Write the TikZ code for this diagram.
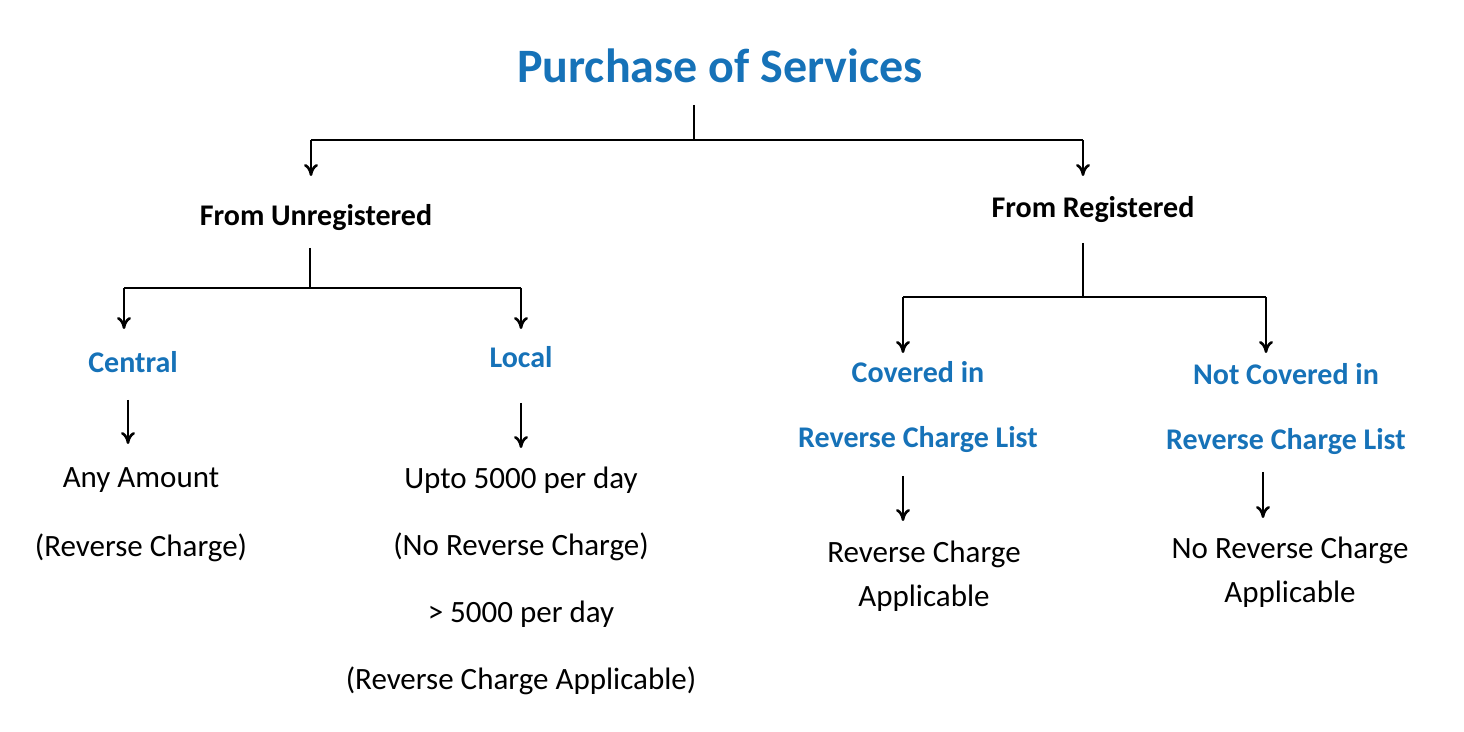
\documentclass[tikz,border=0pt]{standalone}
\usepackage{fontspec}
\setmainfont{Carlito}
\usetikzlibrary{arrows.meta}
\definecolor{tblue}{HTML}{1672B8}
\begin{document}
\begin{tikzpicture}[x=0.5pt,y=-0.5pt,
  ln/.style={line width=1.3pt,black},
  ar/.style={ln,-{To[length=6pt,width=7pt]}},
  hd/.style={font=\bfseries\fontsize{15}{18}\selectfont,text=tblue,inner sep=0},
  bk/.style={font=\bfseries\fontsize{15}{18}\selectfont,inner sep=0},
  tx/.style={font=\fontsize{15.5}{18}\selectfont,inner sep=0}]
\useasboundingbox (0,0) rectangle (1464,732);
\node[font=\bfseries\fontsize{24}{28}\selectfont,text=tblue,inner sep=0] (title) at (720,66) {Purchase of Services};
\coordinate (t0) at (694,105);
\coordinate (t1) at (694,140);
\coordinate (tl) at (311,140);
\coordinate (tr) at (1083,140);
\node[bk] (unreg) at (316,218) {From Unregistered};
\node[bk] (reg) at (1093,210) {From Registered};
\coordinate (tla) at (311,176);
\coordinate (tra) at (1083,176);
\draw[ln] (t0) -- (t1);
\draw[ln] (tl) -- (tr);
\draw[ar] (tl) -- (tla);
\draw[ar] (tr) -- (tra);
% left
\coordinate (u0) at (310,248);
\coordinate (u1) at (310,288);
\coordinate (ul) at (124,288);
\coordinate (ur) at (521,288);
\coordinate (ula) at (124,329);
\coordinate (ura) at (521,329);
\draw[ln] (u0) -- (u1);
\draw[ln] (ul) -- (ur);
\draw[ar] (ul) -- (ula);
\draw[ar] (ur) -- (ura);
\node[hd] (central) at (133,362) {Central};
\node[hd] (local) at (521,357) {Local};
\coordinate (c0) at (128,400); \coordinate (c1) at (128,444);
\coordinate (l0) at (521,403); \coordinate (l1) at (521,448);
\draw[ar] (c0) -- (c1);
\draw[ar] (l0) -- (l1);
\node[tx] (any) at (141,480) {Any Amount};
\node[tx] (rc1) at (141,548) {(Reverse Charge)};
\node[tx] (upto) at (521,480) {Upto 5000 per day};
\node[tx] (nrc) at (521,547) {(No Reverse Charge)};
\node[tx] (gt) at (521,614) {> 5000 per day};
\node[tx] (rca) at (521,681) {(Reverse Charge Applicable)};
% right
\coordinate (r0) at (1083,243);
\coordinate (r1) at (1083,297);
\coordinate (rl) at (903,297);
\coordinate (rr) at (1266,297);
\coordinate (rla) at (903,353);
\coordinate (rra) at (1266,353);
\draw[ln] (r0) -- (r1);
\draw[ln] (rl) -- (rr);
\draw[ar] (rl) -- (rla);
\draw[ar] (rr) -- (rra);
\node[hd] (cov) at (918,372) {Covered in};
\node[hd] (covl) at (918,440) {Reverse Charge List};
\node[hd] (ncov) at (1286,374) {Not Covered in};
\node[hd] (ncovl) at (1286,442) {Reverse Charge List};
\coordinate (a0) at (903,476); \coordinate (a1) at (903,521);
\coordinate (b0) at (1263,472); \coordinate (b1) at (1263,518);
\draw[ar] (a0) -- (a1);
\draw[ar] (b0) -- (b1);
\node[tx,align=center] (rcapp) at (924,576) {Reverse Charge\\[4pt]Applicable};
\node[tx,align=center] (nrcapp) at (1290,572) {No Reverse Charge\\[4pt]Applicable};
\end{tikzpicture}
\end{document}
